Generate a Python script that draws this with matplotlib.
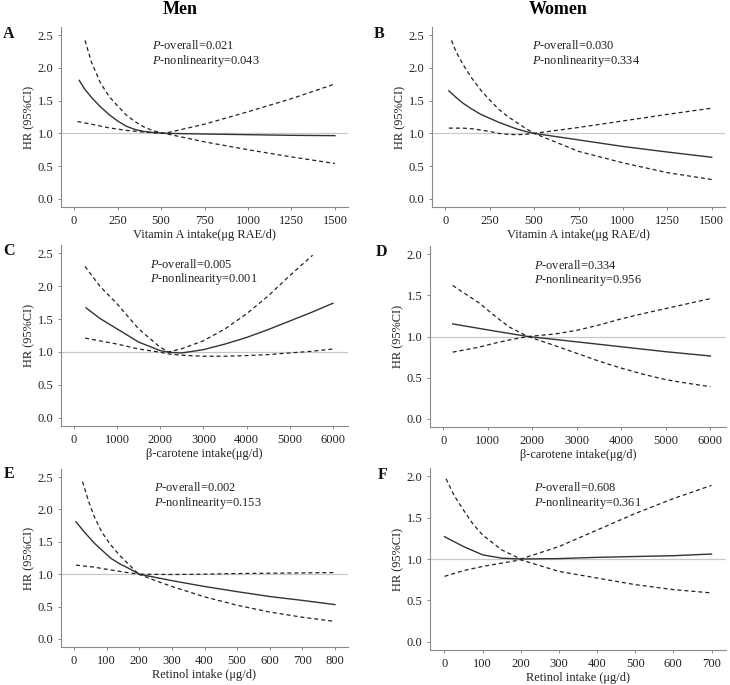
import matplotlib
matplotlib.use("Agg")
import matplotlib.pyplot as plt

plt.rcParams['font.family'] = ['Liberation Serif', 'DejaVu Serif']
plt.rcParams['mathtext.fontset'] = 'custom'
plt.rcParams['mathtext.it'] = 'Liberation Serif:italic'
plt.rcParams['mathtext.rm'] = 'Liberation Serif'

# ---------------- Data ----------------
# Panel A: Men, Vitamin A
a_x = [30, 60, 100, 150, 200, 250, 300, 350, 400, 450, 500, 535, 750, 1000, 1250, 1500]
a_hr = [1.81, 1.68, 1.55, 1.41, 1.29, 1.19, 1.11, 1.06, 1.03, 1.015, 1.005, 1.0, 0.99, 0.98, 0.97, 0.965]
a_up_x = [63, 100, 150, 200, 250, 300, 350, 400, 450, 500, 520, 750, 1000, 1250, 1500]
a_up = [2.42, 2.09, 1.78, 1.57, 1.42, 1.28, 1.18, 1.10, 1.045, 1.01, 1.0, 1.14, 1.33, 1.53, 1.755]
a_lo_x = [20, 100, 200, 300, 400, 450, 500, 520, 750, 1000, 1250, 1500]
a_lo = [1.18, 1.14, 1.085, 1.045, 1.02, 1.01, 1.002, 1.0, 0.87, 0.75, 0.64, 0.54]

# Panel B: Women, Vitamin A
b_x = [20, 60, 100, 150, 200, 250, 300, 350, 400, 450, 500, 750, 1000, 1250, 1500]
b_hr = [1.65, 1.55, 1.46, 1.37, 1.29, 1.23, 1.17, 1.12, 1.07, 1.03, 1.0, 0.90, 0.80, 0.715, 0.635]
b_up_x = [35, 60, 100, 150, 200, 250, 300, 350, 400, 450, 500, 750, 1000, 1250, 1500]
b_up = [2.42, 2.25, 2.05, 1.84, 1.66, 1.51, 1.37, 1.26, 1.17, 1.08, 1.0, 1.09, 1.19, 1.29, 1.385]
b_lo_x = [20, 100, 150, 200, 250, 300, 350, 400, 450, 500, 750, 1000, 1250, 1500]
b_lo = [1.08, 1.08, 1.07, 1.05, 1.03, 1.0, 0.985, 0.98, 0.985, 1.0, 0.725, 0.55, 0.40, 0.295]

# Panel C: Men, beta-carotene
c_x = [280, 600, 1000, 1500, 2000, 2200, 2500, 3000, 3500, 4000, 4500, 5000, 5500, 6000]
c_hr = [1.67, 1.51, 1.35, 1.15, 1.02, 0.995, 0.985, 1.035, 1.12, 1.22, 1.34, 1.47, 1.60, 1.74]
c_up_x = [255, 600, 1000, 1500, 2000, 2200, 2500, 3000, 3500, 4000, 4500, 5000, 5530]
c_up = [2.30, 2.00, 1.73, 1.35, 1.07, 1.0, 1.05, 1.17, 1.35, 1.58, 1.85, 2.16, 2.47]
c_lo_x = [260, 1000, 1500, 2000, 2200, 2500, 3000, 3500, 4000, 4500, 5000, 5500, 6000]
c_lo = [1.21, 1.12, 1.045, 0.995, 0.97, 0.95, 0.935, 0.935, 0.945, 0.96, 0.985, 1.01, 1.045]

# Panel D: Women, beta-carotene
d_x = [210, 1000, 1900, 3000, 4000, 5000, 6000]
d_hr = [1.153, 1.08, 1.0, 0.935, 0.875, 0.815, 0.763]
d_up_x = [210, 600, 800, 1200, 1500, 1900, 2500, 3000, 3500, 4000, 4500, 5000, 5500, 6000]
d_up = [1.62, 1.48, 1.41, 1.23, 1.11, 1.0, 1.03, 1.075, 1.14, 1.215, 1.28, 1.34, 1.40, 1.46]
d_lo_x = [210, 800, 1200, 1500, 1900, 2500, 3000, 3500, 4000, 4500, 5000, 5500, 6000]
d_lo = [0.81, 0.87, 0.925, 0.96, 1.0, 0.89, 0.795, 0.70, 0.615, 0.54, 0.475, 0.43, 0.39]

# Panel E: Men, retinol
e_x = [6, 30, 62, 90, 113, 140, 164, 200, 300, 400, 500, 600, 700, 800]
e_hr = [1.81, 1.66, 1.48, 1.35, 1.245, 1.16, 1.10, 1.0, 0.90, 0.81, 0.73, 0.655, 0.595, 0.53]
e_up_x = [26, 45, 62, 85, 113, 140, 164, 198, 300, 400, 500, 600, 700, 800]
e_up = [2.43, 2.12, 1.89, 1.65, 1.45, 1.29, 1.17, 1.0, 0.995, 1.0, 1.01, 1.015, 1.02, 1.025]
e_lo_x = [6, 60, 113, 150, 198, 250, 300, 400, 500, 600, 700, 800]
e_lo = [1.14, 1.11, 1.065, 1.035, 1.0, 0.90, 0.81, 0.65, 0.52, 0.415, 0.335, 0.27]

# Panel F: Women, retinol
f_x = [0, 50, 100, 150, 200, 300, 400, 500, 600, 700]
f_hr = [1.27, 1.15, 1.05, 1.01, 1.0, 1.005, 1.02, 1.03, 1.04, 1.06]
f_up_x = [4, 25, 50, 75, 100, 150, 200, 300, 400, 500, 600, 700]
f_up = [1.97, 1.77, 1.59, 1.42, 1.29, 1.11, 1.0, 1.15, 1.35, 1.55, 1.73, 1.89]
f_lo_x = [0, 50, 100, 150, 200, 300, 400, 500, 600, 700]
f_lo = [0.79, 0.86, 0.91, 0.95, 0.99, 0.85, 0.77, 0.69, 0.63, 0.59]

panels = [
    dict(letter='A', x=a_x, hr=a_hr, ux=a_up_x, up=a_up, lx=a_lo_x, lo=a_lo,
         xticks=[0, 250, 500, 750, 1000, 1250, 1500], xlim=(-75, 1575),
         yticks=[0.0, 0.5, 1.0, 1.5, 2.0, 2.5], ylim=(-0.125, 2.625),
         xlabel='Vitamin A intake(μg RAE/d)', p1='0.021', p2='0.043', tx=0.317),
    dict(letter='B', x=b_x, hr=b_hr, ux=b_up_x, up=b_up, lx=b_lo_x, lo=b_lo,
         xticks=[0, 250, 500, 750, 1000, 1250, 1500], xlim=(-75, 1575),
         yticks=[0.0, 0.5, 1.0, 1.5, 2.0, 2.5], ylim=(-0.125, 2.625),
         xlabel='Vitamin A intake(μg RAE/d)', p1='0.030', p2='0.334', tx=0.341),
    dict(letter='C', x=c_x, hr=c_hr, ux=c_up_x, up=c_up, lx=c_lo_x, lo=c_lo,
         xticks=[0, 1000, 2000, 3000, 4000, 5000, 6000], xlim=(-300, 6350),
         yticks=[0.0, 0.5, 1.0, 1.5, 2.0, 2.5], ylim=(-0.125, 2.625),
         xlabel='β-carotene intake(μg/d)', p1='0.005', p2='0.001', tx=0.31),
    dict(letter='D', x=d_x, hr=d_hr, ux=d_up_x, up=d_up, lx=d_lo_x, lo=d_lo,
         xticks=[0, 1000, 2000, 3000, 4000, 5000, 6000], xlim=(-300, 6350),
         yticks=[0.0, 0.5, 1.0, 1.5, 2.0], ylim=(-0.1, 2.1),
         xlabel='β-carotene intake(μg/d)', p1='0.334', p2='0.956', tx=0.35),
    dict(letter='E', x=e_x, hr=e_hr, ux=e_up_x, up=e_up, lx=e_lo_x, lo=e_lo,
         xticks=[0, 100, 200, 300, 400, 500, 600, 700, 800], xlim=(-40, 840),
         yticks=[0.0, 0.5, 1.0, 1.5, 2.0, 2.5], ylim=(-0.125, 2.625),
         xlabel='Retinol intake (μg/d)', p1='0.002', p2='0.153', tx=0.325),
    dict(letter='F', x=f_x, hr=f_hr, ux=f_up_x, up=f_up, lx=f_lo_x, lo=f_lo,
         xticks=[0, 100, 200, 300, 400, 500, 600, 700], xlim=(-38, 738),
         yticks=[0.0, 0.5, 1.0, 1.5, 2.0], ylim=(-0.1, 2.1),
         xlabel='Retinol intake (μg/d)', p1='0.608', p2='0.361', tx=0.35),
]

W, H = 730, 685
fig = plt.figure(figsize=(W / 100, H / 100), dpi=100)

# axes boxes in pixels: left, top, right, bottom
boxes = [
    (61, 27, 348, 207), (432, 27, 725, 207),
    (61, 245, 348, 426), (430, 246, 726, 427),
    (61, 469, 348, 647), (430, 468, 726, 650),
]
letter_pos = [(9, 34), (379, 34), (9, 251), (381, 252), (9, 474), (383, 475)]

for p, (l, t, r, b), (lxp, lyp) in zip(panels, boxes, letter_pos):
    ax = fig.add_axes([l / W, 1 - b / H, (r - l) / W, (b - t) / H])
    ax.axhline(1.0, color='#c8c8c8', lw=0.9, zorder=1)
    ax.plot(p['x'], p['hr'], color='#333333', lw=1.0, zorder=3)
    ax.plot(p['ux'], p['up'], color='#222222', lw=0.9, ls=(0, (3.2, 2.4)), zorder=3)
    ax.plot(p['lx'], p['lo'], color='#222222', lw=0.9, ls=(0, (3.2, 2.4)), zorder=3)
    ax.set_xlim(*p['xlim'])
    ax.set_ylim(*p['ylim'])
    ax.set_xticks(p['xticks'])
    ax.set_yticks(p['yticks'])
    ax.set_yticklabels([f'{v:.1f}' for v in p['yticks']])
    for s in ['top', 'right']:
        ax.spines[s].set_visible(False)
    for s in ['left', 'bottom']:
        ax.spines[s].set_color('#8a8a8a')
        ax.spines[s].set_linewidth(0.8)
    ax.tick_params(axis='both', direction='out', length=2.5, width=0.7,
                   colors='#8a8a8a', labelcolor='#222222', labelsize=9, pad=3)
    ax.set_xlabel(p['xlabel'], fontsize=8.9, color='#222222', labelpad=2)
    ax.set_ylabel('HR (95%CI)', fontsize=8.9, color='#222222', labelpad=2)
    ax.text(p['tx'], 0.895, r'$\mathit{P}$-overall=' + p['p1'], transform=ax.transAxes,
            fontsize=8.9, va='center', ha='left', color='#222222')
    ax.text(p['tx'], 0.81, r'$\mathit{P}$-nonlinearity=' + p['p2'], transform=ax.transAxes,
            fontsize=8.9, va='center', ha='left', color='#222222')
    fig.text(lxp / W, 1 - lyp / H, p['letter'], fontsize=11.5, fontweight='bold',
             ha='center', va='center', color='#111111')

fig.text(180 / W, 1 - 9 / H, 'Men', fontsize=13, fontweight='bold', ha='center', va='center')
fig.text(558 / W, 1 - 9 / H, 'Women', fontsize=13, fontweight='bold', ha='center', va='center')

fig.savefig('out.png', dpi=100)
